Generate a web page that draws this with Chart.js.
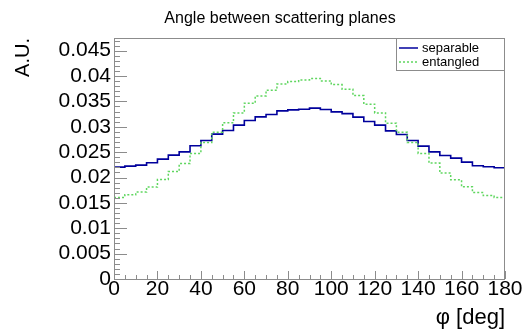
<!DOCTYPE html>
<html>
<head>
<meta charset="utf-8">
<script src="https://cdn.jsdelivr.net/npm/chart.js@4/dist/chart.umd.min.js"></script>
<style>
  html, body { margin: 0; padding: 0; background: #fff; }
  #wrap { width: 524px; height: 331px; }
</style>
</head>
<body>
<div id="wrap"><canvas id="c"></canvas></div>
<script>
// histogram: 36 bins of 5 deg over 0..180
const binWidth = 5;
const separable = [
    0.02205, 0.02225, 0.02245, 0.0229, 0.02363, 0.02441, 0.02506, 0.02625, 0.02729,
    0.02855, 0.02926, 0.03032, 0.03123, 0.03196, 0.03241, 0.03314, 0.03334, 0.03347,
    0.03367, 0.0334, 0.03294, 0.0326, 0.0319, 0.03103, 0.03032, 0.0292, 0.02847,
    0.02729, 0.02619, 0.02506, 0.02434, 0.02382, 0.02304, 0.02231, 0.02211, 0.02192
];
const entangled = [
    0.01607, 0.0166, 0.01713, 0.01811, 0.01961, 0.02119, 0.02276, 0.02473, 0.0269,
    0.02894, 0.03078, 0.03274, 0.03465, 0.03609, 0.03721, 0.03845, 0.03891, 0.03924,
    0.0395, 0.03904, 0.03832, 0.03741, 0.03615, 0.03446, 0.03274, 0.03071, 0.02894,
    0.0269, 0.02473, 0.02284, 0.02087, 0.01955, 0.01817, 0.01705, 0.01646, 0.01607
];
const xTicks = [0, 20, 40, 60, 80, 100, 120, 140, 160, 180];
const xTickLabels = ['0', '20', '40', '60', '80', '100', '120', '140', '160', '180'];
const yTicks = [0, 0.005, 0.01, 0.015, 0.02, 0.025, 0.03, 0.035, 0.04, 0.045];
const yTickLabels = ['0', '0.005', '0.01', '0.015', '0.02', '0.025', '0.03', '0.035', '0.04', '0.045'];

const FONT = '"Liberation Sans", Arial, sans-serif';
const AXIS_GREY = '#8c8c8c';
const BLUE = '#00009c';
const GREEN = '#5fd65f';

// left bin edges + closing edge; 'before' keeps each bin flat at its own value
const toSteps = (vals) => {
    const pts = vals.map((v, i) => ({ x: i * binWidth, y: v }));
    pts.push({ x: vals.length * binWidth, y: vals[vals.length - 1] });
    return pts;
};

const frameAndTicks = {
    id: 'frameAndTicks',
    afterDatasetsDraw(chart) {
        const { ctx, chartArea: a, scales: { x, y } } = chart;
        ctx.save();
        ctx.strokeStyle = AXIS_GREY;
        ctx.lineWidth = 1;
        ctx.strokeRect(a.left + 0.5, a.top + 0.5, a.right - a.left - 1, a.bottom - a.top);
        ctx.beginPath();
        // y ticks: major every 0.005, minor every 0.001
        for (let k = 0; k <= 47; k++) {
            const py = Math.round(y.getPixelForValue(k * 0.001)) + 0.5;
            const len = k % 5 === 0 ? 13 : 6;
            ctx.moveTo(a.left, py);
            ctx.lineTo(a.left + len, py);
        }
        // x ticks: major every 20, minor every 5
        for (let d = 0; d <= 180; d += 5) {
            const px = Math.round(x.getPixelForValue(d)) + 0.5;
            const len = d % 20 === 0 ? 8 : 4;
            ctx.moveTo(px, a.bottom);
            ctx.lineTo(px, a.bottom - len);
        }
        ctx.stroke();
        ctx.restore();
    },
    afterDraw(chart) {
        const { ctx, chartArea: a } = chart;
        ctx.save();
        // title
        ctx.fillStyle = '#000';
        ctx.font = '16px ' + FONT;
        ctx.textAlign = 'center';
        ctx.textBaseline = 'alphabetic';
        ctx.fillText('Angle between scattering planes', 280, 23);

        // legend box
        const bx = 396, by = a.top, bw = a.right - bx, bh = 32;
        ctx.fillStyle = '#fff';
        ctx.fillRect(bx, by, bw, bh);
        ctx.strokeStyle = AXIS_GREY;
        ctx.lineWidth = 1;
        ctx.strokeRect(bx + 0.5, by + 0.5, bw - 1, bh);
        const rows = [
            { label: 'separable', color: BLUE, dash: [], w: 1.5, y: by + 10 },
            { label: 'entangled', color: GREEN, dash: [2, 2], w: 1.5, y: by + 24 }
        ];
        ctx.font = '13px ' + FONT;
        ctx.textAlign = 'left';
        ctx.textBaseline = 'middle';
        rows.forEach(r => {
            ctx.beginPath();
            ctx.setLineDash(r.dash);
            ctx.strokeStyle = r.color;
            ctx.lineWidth = r.w;
            ctx.moveTo(399, r.y);
            ctx.lineTo(418, r.y);
            ctx.stroke();
            ctx.setLineDash([]);
            ctx.fillStyle = '#000';
            ctx.fillText(r.label, 422, r.y);
        });
        ctx.restore();
    }
};

new Chart(document.getElementById('c'), {
    type: 'line',
    data: {
        datasets: [
            {
                label: 'entangled',
                data: toSteps(entangled),
                stepped: 'before',
                borderColor: GREEN,
                borderWidth: 1.5,
                borderDash: [2, 2],
                pointRadius: 0,
                fill: false
            },
            {
                label: 'separable',
                data: toSteps(separable),
                stepped: 'before',
                borderColor: BLUE,
                borderWidth: 1.6,
                pointRadius: 0,
                fill: false
            }
        ]
    },
    options: {
        responsive: true,
        maintainAspectRatio: false,
        animation: false,
        layout: { padding: { top: 38, right: 19, left: 0, bottom: 0 } },
        plugins: {
            legend: { display: false },
            tooltip: { enabled: false }
        },
        scales: {
            x: {
                type: 'linear',
                min: 0,
                max: 180,
                afterBuildTicks: (s) => { s.ticks = xTicks.map(v => ({ value: v })); },
                afterFit: (s) => { s.height = 52; },
                grid: { display: false, drawTicks: false },
                border: { display: false },
                ticks: {
                    color: '#000',
                    padding: 0,
                    maxRotation: 0,
                    autoSkip: false,
                    font: { family: FONT, size: 21, lineHeight: 1 },
                    callback: (v, i) => xTickLabels[i]
                },
                title: {
                    display: true,
                    text: 'φ [deg]',
                    align: 'end',
                    color: '#000',
                    padding: { top: 7, bottom: 0 },
                    font: { family: FONT, size: 22 }
                }
            },
            y: {
                min: 0,
                max: 0.0475,
                afterBuildTicks: (s) => { s.ticks = yTicks.map(v => ({ value: v })); },
                afterFit: (s) => { s.width = 114; },
                grid: { display: false, drawTicks: false },
                border: { display: false },
                ticks: {
                    color: '#000',
                    padding: 3,
                    autoSkip: false,
                    font: { family: FONT, size: 21, lineHeight: 1 },
                    callback: (v, i) => yTickLabels[i]
                },
                title: {
                    display: true,
                    text: 'A.U.',
                    align: 'end',
                    color: '#000',
                    padding: { top: 11, bottom: 0 },
                    font: { family: FONT, size: 20 }
                }
            }
        }
    },
    plugins: [frameAndTicks]
});
</script>
</body>
</html>
